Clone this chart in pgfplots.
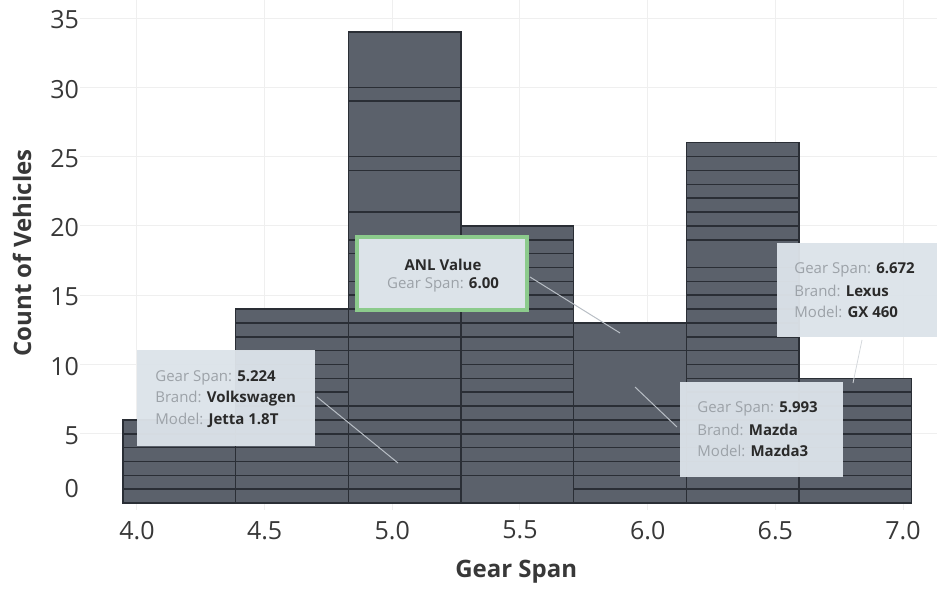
\documentclass[border=0pt]{standalone}
\usepackage{fontspec}
\setmainfont{Open Sans}
\usepackage{pgfplots}
\pgfplotsset{compat=1.18}

\definecolor{barfill}{HTML}{5B616B}
\definecolor{barline}{HTML}{2A2E35}
\definecolor{gridc}{HTML}{EFEFEF}
\definecolor{tickc}{HTML}{383838}
\definecolor{tipbg}{HTML}{DCE3E9}
\definecolor{tipkey}{HTML}{9CA2A8}
\definecolor{tipval}{HTML}{2A2A2A}
\definecolor{anlgreen}{HTML}{8CCB8C}
\definecolor{leader}{HTML}{B8BEC5}

\begin{document}
\begin{tikzpicture}
\useasboundingbox (0,0) rectangle (468.5pt,294.5pt);
\begin{axis}[
  at={(40pt,39.5pt)}, anchor=south west,
  scale only axis, width=428.5pt, height=255pt,
  xmin=3.777, xmax=7.133, ymin=-0.5, ymax=36.3,
  axis line style={draw=none},
  major tick length=0pt,
  /pgf/number format/assume math mode=true,
  xtick={4,4.5,5,5.5,6,6.5,7},
  xticklabel style={/pgf/number format/.cd, fixed, fixed zerofill, precision=1, /tikz/.cd,
    font=\fontsize{12.5}{14}\selectfont, text=tickc, yshift=-2pt},
  ytick={5,10,...,35},
  yticklabel style={font=\fontsize{12.5}{14}\selectfont, text=tickc, yshift=-1pt, xshift=3pt},
  extra y ticks={0},
  extra y tick style={grid=none, yticklabel style={yshift=8.5pt}},
  grid=major,
  major grid style={gridc, line width=0.5pt},
  xlabel={Gear Span},
  ylabel={Count of Vehicles},
  xlabel style={at={(axis description cs:0.509,-0.1216)}, anchor=center,
    font=\bfseries\fontsize{12}{14}\selectfont, text=tickc},
  ylabel style={at={(axis description cs:-0.0677,0.504)}, anchor=center,
    font=\bfseries\fontsize{12}{14}\selectfont, text=tickc},
]

% histogram bins (left edge, count); last row closes the final bin
\addplot[ybar interval, fill=barfill, draw=barline, line width=0.7pt] coordinates {
  (3.946,6) (4.387,14) (4.828,34) (5.269,20) (5.710,13) (6.151,26) (6.592,9) (7.033,9)
};

% segment boundaries inside each bar (bin centre, height)
\addplot[draw=none, mark=none,
  error bars/.cd, x dir=both, x fixed=0.2205, error mark=none,
  error bar style={draw=barline, line width=0.8pt}] table {
x y
4.1665 1
4.1665 2
4.1665 3
4.1665 4
4.1665 5
4.6075 1
4.6075 2
4.6075 3
4.6075 4
4.6075 5
4.6075 6
4.6075 7
4.6075 8
4.6075 9
4.6075 10
4.6075 11
4.6075 12
4.6075 13
5.0485 1
5.0485 2
5.0485 3
5.0485 4
5.0485 5
5.0485 6
5.0485 7
5.0485 9
5.0485 11
5.0485 12
5.0485 13
5.0485 14
5.0485 15
5.0485 16
5.0485 18
5.0485 19
5.0485 21
5.0485 24
5.0485 25
5.0485 29
5.0485 30
5.4895 2
5.4895 3
5.4895 4
5.4895 5
5.4895 6
5.4895 7
5.4895 8
5.4895 9
5.4895 10
5.4895 11
5.4895 12
5.4895 13
5.4895 14
5.4895 15
5.4895 16
5.4895 17
5.4895 18
5.4895 19
5.9305 1
5.9305 2
5.9305 3
5.9305 4
5.9305 5
5.9305 6
5.9305 7
5.9305 11
6.3715 1
6.3715 2
6.3715 3
6.3715 4
6.3715 5
6.3715 6
6.3715 7
6.3715 8
6.3715 9
6.3715 10
6.3715 11
6.3715 12
6.3715 13
6.3715 14
6.3715 15
6.3715 16
6.3715 17
6.3715 19
6.3715 20
6.3715 21
6.3715 22
6.3715 23
6.3715 24
6.3715 25
6.8125 1
6.8125 2
6.8125 3
6.8125 4
6.8125 5
6.8125 6
6.8125 7
6.8125 8
};
\end{axis}

% tooltips, in pixel coordinates of the 937x589 image
\begin{scope}[x=0.5pt, y=-0.5pt, shift={(0pt,294.5pt)},
  tip/.style={anchor=west, inner sep=0pt, font=\fontsize{7.5}{9}\selectfont}]
  % Volkswagen
  \fill[tipbg, opacity=0.96] (137,350) rectangle (315,446);
  \draw[leader, line width=0.5pt] (317,397) -- (398,463);
  \node[tip] at (155,378) {\textcolor{tipkey}{Gear Span:} \textcolor{tipval}{\bfseries 5.224}};
  \node[tip] at (155,399) {\textcolor{tipkey}{Brand:} \textcolor{tipval}{\bfseries Volkswagen}};
  \node[tip] at (155,420) {\textcolor{tipkey}{Model:} \textcolor{tipval}{\bfseries Jetta 1.8T}};
  % ANL value
  \filldraw[fill=tipbg, draw=anlgreen, line width=2pt] (357,237) rectangle (527,310);
  \draw[leader, line width=0.5pt] (530,277) -- (620,333);
  \node[inner sep=0pt, font=\bfseries\fontsize{7.5}{9}\selectfont, text=tipval] at (443,265) {ANL Value};
  \node[inner sep=0pt, font=\fontsize{7.5}{9}\selectfont] at (443,285) {\textcolor{tipkey}{Gear Span:} \textcolor{tipval}{\bfseries 6.00}};
  % Mazda
  \fill[tipbg, opacity=0.96] (680,382) rectangle (843,477);
  \draw[leader, line width=0.5pt] (635,387) -- (677,427);
  \node[tip] at (697,409) {\textcolor{tipkey}{Gear Span:} \textcolor{tipval}{\bfseries 5.993}};
  \node[tip] at (697,430) {\textcolor{tipkey}{Brand:} \textcolor{tipval}{\bfseries Mazda}};
  \node[tip] at (697,451) {\textcolor{tipkey}{Model:} \textcolor{tipval}{\bfseries Mazda3}};
  % Lexus
  \fill[tipbg, opacity=0.96] (777,243) rectangle (937,337);
  \draw[leader!60!white, line width=0.4pt] (862,340) -- (853,383);
  \node[tip] at (794,270) {\textcolor{tipkey}{Gear Span:} \textcolor{tipval}{\bfseries 6.672}};
  \node[tip] at (794,291) {\textcolor{tipkey}{Brand:} \textcolor{tipval}{\bfseries Lexus}};
  \node[tip] at (794,312) {\textcolor{tipkey}{Model:} \textcolor{tipval}{\bfseries GX 460}};
\end{scope}
\end{tikzpicture}
\end{document}
